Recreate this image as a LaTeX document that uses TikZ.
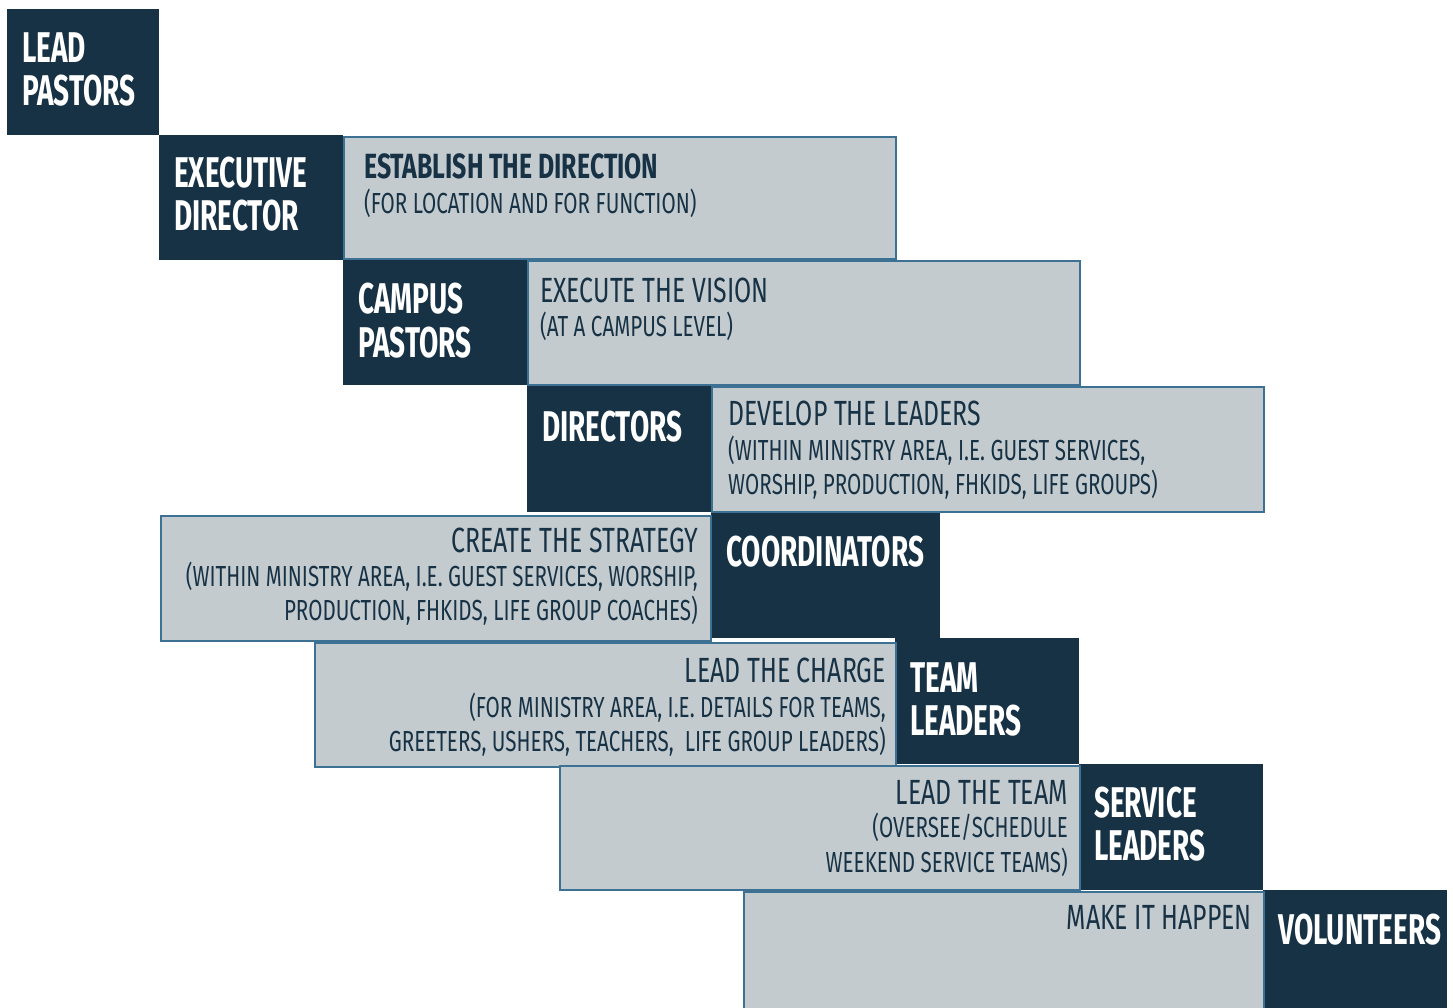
\documentclass[tikz,border=0pt]{standalone}
\usepackage{fontspec}
\setmainfont{Fira Sans}[FakeStretch=0.71]
\newfontfamily\rolefont{Fira Sans}[FakeStretch=0.65]
\definecolor{navy}{HTML}{173245}
\definecolor{mist}{HTML}{C4CBCF}
\definecolor{edge}{HTML}{3C7193}
\tikzset{
  role/.style={fill=navy, draw=none, inner sep=0, anchor=north west},
  task/.style={fill=mist, draw=edge, line width=2.2pt, inner sep=0, anchor=north west},
  rolelabel/.style={text=white, font=\rolefont\bfseries\fontsize{43}{44}\selectfont, inner sep=0, anchor=base west},
  titleL/.style={text=navy, font=\fontsize{35}{36}\selectfont, inner sep=0, anchor=base west},
  titleR/.style={text=navy, font=\fontsize{35}{36}\selectfont, inner sep=0, anchor=base east},
  noteL/.style={text=navy, font=\fontsize{29}{30}\selectfont, inner sep=0, anchor=base west},
  noteR/.style={text=navy, font=\fontsize{29}{30}\selectfont, inner sep=0, anchor=base east},
}
\begin{document}
\begin{tikzpicture}[x=1pt,y=-1pt]
\useasboundingbox (0,0) rectangle (1453,1008);
% role blocks
\node[role, minimum width=152pt, minimum height=126pt] (lp) at (7,9) {};
\node[role, minimum width=184pt, minimum height=125pt] (ed) at (159,135) {};
\node[role, minimum width=184pt, minimum height=125pt] (cp) at (343,260) {};
\node[role, minimum width=184pt, minimum height=127pt] (di) at (527,385) {};
\node[role, minimum width=229pt, minimum height=126pt] (co) at (711,512) {};
\node[role, minimum width=184pt, minimum height=126pt] (tl) at (895,638) {};
\node[role, minimum width=184pt, minimum height=126pt] (sl) at (1079,764) {};
\node[role, minimum width=184pt, minimum height=130pt] (vo) at (1263,890) {};
% responsibility blocks
\node[task, minimum width=552pt, minimum height=122pt] (est) at (343,136) {};
\node[task, minimum width=552pt, minimum height=124pt] (exe) at (527,260) {};
\node[task, minimum width=552pt, minimum height=125pt] (dev) at (711,386) {};
\node[task, minimum width=550pt, minimum height=125pt] (cre) at (160,515) {};
\node[task, minimum width=581pt, minimum height=124pt] (chg) at (314,642) {};
\node[task, minimum width=520pt, minimum height=124pt] (team) at (559,765) {};
\node[task, minimum width=520pt, minimum height=130pt] (make) at (743,891) {};
% role names
\node[rolelabel] (lp1) at (22,63) {LEAD};
\node[rolelabel] (lp2) at (22,106) {PASTORS};
\node[rolelabel] (ed1) at (174,188) {EXECUTIVE};
\node[rolelabel] (ed2) at (174,231) {DIRECTOR};
\node[rolelabel] (cp1) at (358,313) {CAMPUS};
\node[rolelabel] (cp2) at (358,357) {PASTORS};
\node[rolelabel] (di1) at (542,441) {DIRECTORS};
\node[rolelabel] (co1) at (726,566) {COORDINATORS};
\node[rolelabel] (tl1) at (910,692) {TEAM};
\node[rolelabel] (tl2) at (910,735) {LEADERS};
\node[rolelabel] (sl1) at (1094,817) {SERVICE};
\node[rolelabel] (sl2) at (1094,860) {LEADERS};
\node[rolelabel] (vo1) at (1278,944) {VOLUNTEERS};
% responsibilities
\node[titleL, font=\bfseries\fontsize{35}{36}\selectfont] (est1) at (364,179) {ESTABLISH THE DIRECTION};
\node[noteL] (est2) at (364,214) {(FOR LOCATION AND FOR FUNCTION)};
\node[titleL] (exe1) at (540,302) {EXECUTE THE VISION};
\node[noteL] (exe2) at (540,336) {(AT A CAMPUS LEVEL)};
\node[titleL] (dev1) at (728,425) {DEVELOP THE LEADERS};
\node[noteL] (dev2) at (728,460) {(WITHIN MINISTRY AREA, I.E. GUEST SERVICES,};
\node[noteL] (dev3) at (728,494) {WORSHIP, PRODUCTION, FHKIDS, LIFE GROUPS)};
\node[titleR] (cre1) at (698,552) {CREATE THE STRATEGY};
\node[noteR] (cre2) at (698,586) {(WITHIN MINISTRY AREA, I.E. GUEST SERVICES, WORSHIP,};
\node[noteR] (cre3) at (698,620) {PRODUCTION, FHKIDS, LIFE GROUP COACHES)};
\node[titleR] (chg1) at (886,682) {LEAD THE CHARGE};
\node[noteR] (chg2) at (886,717) {(FOR MINISTRY AREA, I.E. DETAILS FOR TEAMS,};
\node[noteR] (chg3) at (886,751) {GREETERS, USHERS, TEACHERS,\ \ LIFE GROUP LEADERS)};
\node[titleR] (team1) at (1068,804) {LEAD THE TEAM};
\node[noteR] (team2) at (1068,837) {(OVERSEE/SCHEDULE};
\node[noteR] (team3) at (1068,872) {WEEKEND SERVICE TEAMS)};
\node[titleR] (make1) at (1252,929) {MAKE IT HAPPEN};
\end{tikzpicture}
\end{document}
